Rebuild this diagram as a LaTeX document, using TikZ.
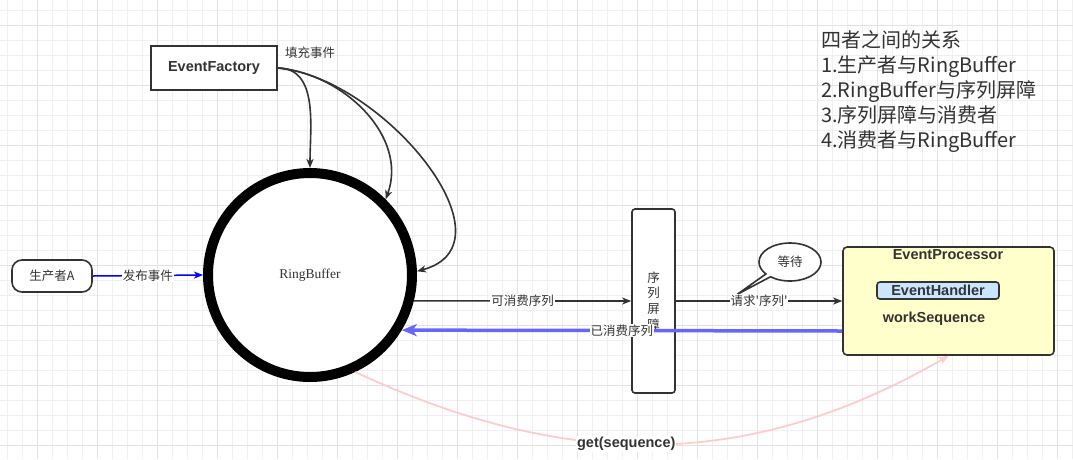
\documentclass[tikz,border=0pt]{standalone}
\usepackage{fontspec}
\setmainfont{Liberation Sans}
\newfontfamily\cjkfont{Noto Sans CJK SC}
\newfontfamily\ringfont{Liberation Serif}
\usetikzlibrary{arrows.meta,shapes.callouts,positioning}
\definecolor{ink}{HTML}{333333}
\definecolor{gridlight}{HTML}{F0F0F0}
\definecolor{griddark}{HTML}{E2E2E2}
\definecolor{procfill}{HTML}{FFFFCC}
\definecolor{handlerfill}{HTML}{CCE5FF}
\definecolor{consumed}{HTML}{6666FF}
\definecolor{getpink}{HTML}{FFCCCC}
\newcommand\boldlbl{\bfseries\fontsize{14.5}{17}\selectfont}
\newcommand\cjklbl{\cjkfont\fontsize{12.5}{15.7}\selectfont}
\newcommand\ringlbl{\ringfont\fontsize{13.5}{16}\selectfont}
\newcommand\noteslbl{\cjkfont\fontsize{20}{25}\selectfont}
\begin{document}
\begin{tikzpicture}[x=1pt,y=-1pt,
  gridminor/.style={draw=gridlight,line width=0.8pt},
  gridmajor/.style={draw=griddark,line width=0.8pt},
  boxnode/.style={draw=ink,line width=1.6pt,fill=white,text=ink,font=\boldlbl},
  boldtxt/.style={text=ink,font=\boldlbl,inner sep=1pt},
  cjktxt/.style={text=ink,font=\cjklbl,inner sep=1pt},
  cjkon/.style={cjktxt,fill=white},
  ringnode/.style={circle,draw=black,line width=10pt,minimum size=204pt,fill=white,text=ink,font=\ringlbl},
  bubble/.style={ellipse callout,draw=ink,line width=1.6pt,fill=white,text=ink,font=\cjklbl,
    minimum width=62pt,minimum height=38pt,callout relative pointer={(-31pt,-19pt)},callout pointer arc=12},
  link/.style={draw=ink,line width=1.6pt,-{Stealth[length=9pt,width=7pt,inset=2.5pt]}},
  bluelink/.style={draw=blue,line width=1.5pt,-{Stealth[length=9pt,width=7pt,inset=2.5pt]}},
  consumedlink/.style={draw=consumed,line width=3.5pt,-{Stealth[length=15pt,width=12pt,inset=4pt]}},
  getlink/.style={draw=getpink,line width=1.8pt,-{Stealth[length=10pt,width=8pt,inset=2.5pt]}}]
  \useasboundingbox (0,0) rectangle (1073,459);
  \fill[white] (0,0) rectangle (1073,459);
  % background grid
  \foreach \gx in {7,22,...,1072} \draw[gridminor] (\gx,0) -- (\gx,459);
  \foreach \gy in {10,25,...,459} \draw[gridminor] (0,\gy) -- (1073,\gy);
  \foreach \gx in {37,97,...,1072} \draw[gridmajor] (\gx,0) -- (\gx,459);
  \foreach \gy in {25,85,...,459} \draw[gridmajor] (0,\gy) -- (1073,\gy);

  % nodes
  \node[boxnode,minimum width=126pt,minimum height=44pt] (factory) at (214,68) {EventFactory};
  \node[cjktxt,anchor=north west] (filltxt) at ([xshift=6pt,yshift=-1pt]factory.north east) {填充事件};
  \node[ringnode] (ring) at (310,275) {RingBuffer};
  \node[boxnode,rounded corners=10pt,minimum width=80pt,minimum height=32pt,font=\cjklbl] (producer) at (52,276) {生产者A};
  \node[boxnode,rounded corners=3pt,minimum width=43pt,minimum height=184pt,font=\cjklbl,align=center] (barrier) at (653.5,301) {序\\列\\屏\\障};
  \node[boxnode,fill=procfill,rounded corners=4pt,minimum width=211pt,minimum height=108pt] (processor) at (948.5,301) {};
  \node[boldtxt] (proctitle) at (948,255) {EventProcessor};
  \node[boxnode,fill=handlerfill,rounded corners=3pt,minimum width=122pt,minimum height=17pt,inner sep=0pt] (handler) at (938,290.5) {EventHandler};
  \node[boldtxt] (worksequence) at (934,319) {workSequence};
  \node[bubble] (wait) at (790,262) {等待};
  \node[text=ink,font=\noteslbl,align=left,anchor=north west,inner sep=0pt] (relations) at (821,30)
    {四者之间的关系\\1.生产者与RingBuffer\\2.RingBuffer与序列屏障\\3.序列屏障与消费者\\4.消费者与RingBuffer};

  % connectors
  \draw[link] (factory.east) to[out=0,in=90] (ring.north);
  \draw[link] (factory.east) to[out=-5,in=70] (ring.45);
  \draw[link] (factory.east) to[out=-5,in=15,looseness=1.1] (ring.2);
  \draw[bluelink] (producer.east) -- node[cjkon] {发布事件} (ring.west);
  \draw[link] (ring.-14) -- node[cjkon] {可消费序列} (barrier.west);
  \draw[link] (barrier.east) -- node[cjkon] {请求\symbol{39}序列\symbol{39}} (processor.west);
  \draw[consumedlink] ([yshift=-30pt]processor.west) -- node[cjkon] {已消费序列} (ring.-31.6);
  \draw[getlink] (ring.-65) to[out=-25,in=-150] node[boldtxt,fill=white,pos=0.45] {get(sequence)} (processor.south);
\end{tikzpicture}
\end{document}
